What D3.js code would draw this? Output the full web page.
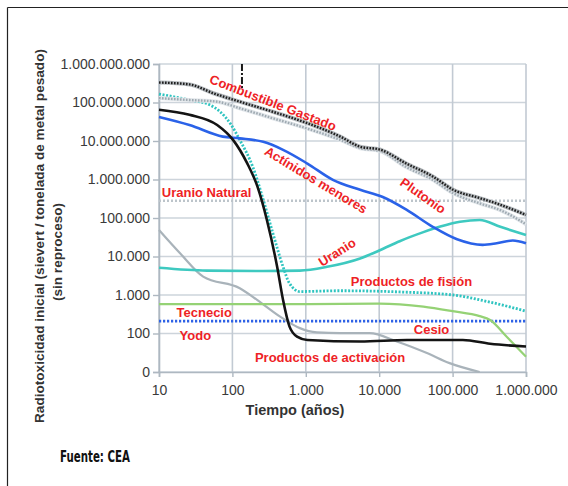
<!DOCTYPE html>
<html><head><meta charset="utf-8">
<script src="https://cdn.jsdelivr.net/npm/d3@7"></script>
<style>body{margin:0;background:#fff}svg{display:block}</style>
</head><body>
<svg id="c" width="568" height="486"></svg>
<script>
// ---------- data ----------
const xTicks = [10, 100, 1000, 10000, 100000, 1000000];
const xTickLabels = ["10", "100", "1.000", "10.000", "100.000", "1.000.000"];
const yTicks = [10, 100, 1e3, 1e4, 1e5, 1e6, 1e7, 1e8, 1e9];
const yTickLabels = ["0", "100", "1.000", "10.000", "100.000", "1.000.000", "10.000.000", "100.000.000", "1.000.000.000"];

const combTime  = [10, 26, 55, 126, 355, 1050, 2950, 5500, 10200, 23400, 53700, 102000, 234000, 447000, 1000000];
const combValue = [3.3e8, 2.95e8, 1.74e8, 1.05e8, 5.75e7, 2.9e7, 1.3e7, 7.1e6, 6.0e6, 2.6e6, 1.2e6, 5.4e5, 3.3e5, 2.2e5, 1.2e5];

const pluTime  = [10, 26, 62, 126, 355, 1050, 2950, 5500, 10200, 23400, 53700, 102000, 234000, 447000, 1000000];
const pluValue = [1.3e8, 1.16e8, 1.05e8, 7.1e7, 3.9e7, 2.1e7, 1.07e7, 6.5e6, 5.5e6, 2.1e6, 9.8e5, 4.4e5, 2.4e5, 1.6e5, 6.9e4];

const actTime  = [10, 26, 74, 126, 263, 490, 1050, 2340, 5500, 11200, 24000, 53700, 115000, 257000, 398000, 660000, 1000000];
const actValue = [4.2e7, 2.6e7, 1.3e7, 1.17e7, 9.5e6, 5.9e6, 2.6e6, 9.8e5, 5.4e5, 3.5e5, 1.6e5, 5.9e4, 2.8e4, 2.0e4, 2.2e4, 2.6e4, 2.2e4];

const fisTime  = [10, 26, 49, 93, 126, 190, 263, 355, 490, 600, 830, 2950, 19000, 102000, 295000, 1000000];
const fisValue = [1.66e8, 1.16e8, 8.7e7, 2.9e7, 1.07e7, 2.1e6, 3.0e5, 4.1e4, 5.4e3, 2.0e3, 1.23e3, 1.29e3, 1.2e3, 1.0e3, 6.8e2, 3.8e2];

const uraTime  = [10, 45, 263, 830, 1950, 5500, 10200, 19000, 40000, 68000, 126000, 234000, 447000, 1000000];
const uraValue = [5.1e3, 4.3e3, 4.2e3, 4.3e3, 5.4e3, 8.9e3, 1.45e4, 2.5e4, 4.3e4, 6.0e4, 8.0e4, 8.9e4, 5.9e4, 3.6e4];

const tecTime  = [10, 1000, 10000, 40000, 100000, 234000, 324000, 550000, 1000000];
const tecValue = [580, 580, 600, 500, 380, 282, 224, 81, 25];

const yodTime  = [10, 19.5, 40, 126, 219, 447, 830, 1410, 2950, 7400, 17400, 44700, 91000, 234000];
const yodValue = [4.9e4, 1.2e4, 3.0e3, 1.5e3, 740, 275, 138, 107, 102, 102, 62, 31, 17, 10];

const pacTime  = [10, 26, 62, 102, 158, 219, 295, 407, 490, 600, 760, 1050, 5500, 24000, 138000, 324000, 1000000];
const pacValue = [6.5e7, 4.8e7, 2.6e7, 1.07e7, 2.7e6, 6.6e5, 8.9e4, 5.4e3, 740, 151, 83, 68, 62, 68, 68, 54, 46];

const uranioNatural = 2.8e5;
const cesioLevel = 210;
const markerTime = 135;
const markerRange = [1e9, 2.1e8];

const labelTexts  = ["Combustible Gastado", "Actínidos menores", "Plutonio", "Uranio Natural", "Uranio", "Productos de fisión", "Tecnecio", "Yodo", "Cesio", "Productos de activación"];
const labelTimes  = [357, 1377, 39500, 44.5, 2660, 27500, 41.3, 31.3, 51600, 2140];
const labelValues = [9.9e7, 9.7e5, 3.8e5, 4.6e5, 1.3e4, 2245, 349, 91.4, 131, 23.8];
const labelAngles = [21, 31, 35, 0, -32, 0, 0, 0, 0, 0];

// ---------- layout ----------
const L = 159, R = 526, T = 64, B = 372;
const svg = d3.select("#c");
const x = d3.scaleLog().domain([10, 1e6]).range([L, R]);
const y = d3.scaleLog().domain([10, 1e9]).range([B, T]);
const FONT = "'Liberation Sans', Arial, Helvetica, sans-serif";

// frame
svg.append("line").attr("x1", 7.5).attr("x2", 568).attr("y1", 7.5).attr("y2", 7.5).attr("stroke", "#222").attr("stroke-width", 1.2);
svg.append("line").attr("x1", 7.5).attr("x2", 7.5).attr("y1", 7.5).attr("y2", 486).attr("stroke", "#222").attr("stroke-width", 1.2);

// grid
const grid = svg.append("g");
grid.selectAll("line.h").data(yTicks).join("line")
  .attr("x1", L).attr("x2", R).attr("y1", d => y(d)).attr("y2", d => y(d))
  .attr("stroke", "#cdd4db").attr("stroke-width", 1.6);
grid.selectAll("line.v").data(xTicks).join("line")
  .attr("y1", T).attr("y2", B).attr("x1", d => x(d)).attr("x2", d => x(d))
  .attr("stroke", "#c2cad3").attr("stroke-width", 1.6);

// axes
const yAxis = svg.append("g").attr("transform", `translate(${L},0)`)
  .call(d3.axisLeft(y).tickValues(yTicks).tickFormat((d, i) => yTickLabels[i]).tickSize(6).tickPadding(3));
const xAxis = svg.append("g").attr("transform", `translate(0,${B})`)
  .call(d3.axisBottom(x).tickValues(xTicks).tickFormat((d, i) => xTickLabels[i]).tickSize(5).tickPadding(8));
[yAxis, xAxis].forEach(g => {
  g.select(".domain").attr("stroke", "#aeb8c1").attr("stroke-width", 1.6);
  g.selectAll(".tick line").attr("stroke", "#aeb8c1").attr("stroke-width", 1.4);
  g.selectAll("text").attr("font-family", FONT).attr("font-size", 14).attr("fill", "#3a3a3a");
});

// line generator
const line = d3.line().x(d => x(d[0])).y(d => y(d[1])).curve(d3.curveMonotoneX);
const zip = (a, b) => a.map((t, i) => [t, b[i]]);
const plot = svg.append("g").attr("fill", "none").attr("stroke-linecap", "butt");
function draw(data, stroke, width, dash) {
  const p = plot.append("path").attr("d", line(data)).attr("stroke", stroke).attr("stroke-width", width);
  if (dash) p.attr("stroke-dasharray", dash);
  return p;
}

// reference lines
draw([[10, uranioNatural], [1e6, uranioNatural]], "#bcc4ca", 2.6, "2,2");
draw([[10, cesioLevel], [1e6, cesioLevel]], "#2e62e6", 2.8, "2.2,1.8");

// curves
draw(zip(yodTime, yodValue), "#a9b3ba", 2.2);
draw(zip(tecTime, tecValue), "#95d275", 2.2);
draw(zip(uraTime, uraValue), "#3ec9c0", 2.6);
draw(zip(fisTime, fisValue), "#2fc4c0", 2.8, "2,1.6");
draw(zip(actTime, actValue), "#2a62e8", 2.6);
draw(zip(pacTime, pacValue), "#141414", 2.6);
draw(zip(pluTime, pluValue), "#e1e6ea", 4);
draw(zip(pluTime, pluValue), "#9ea9b1", 2.4, "1.6,1.4");
draw(zip(combTime, combValue), "#b5babe", 4);
draw(zip(combTime, combValue), "#1e1e1e", 2.4, "1.6,1.4");

// vertical dash-dot marker
draw([[markerTime, markerRange[0]], [markerTime, markerRange[1]]], "#1a1a1a", 2, "7,2,2,2");

// labels
svg.append("g").selectAll("text").data(labelTexts).join("text")
  .attr("transform", (d, i) => `translate(${x(labelTimes[i])},${y(labelValues[i])}) rotate(${labelAngles[i]})`)
  .attr("text-anchor", "middle").attr("dy", "0.35em")
  .attr("font-family", FONT).attr("font-weight", "bold").attr("font-size", 13)
  .attr("fill", "#ee1f26").text(d => d);

// axis titles
svg.append("text").attr("x", 295).attr("y", 415).attr("text-anchor", "middle")
  .attr("font-family", FONT).attr("font-weight", "bold").attr("font-size", 14.5).attr("fill", "#333")
  .text("Tiempo (años)");
svg.append("text").attr("transform", "translate(44,236) rotate(-90)").attr("text-anchor", "middle")
  .attr("font-family", FONT).attr("font-weight", "bold").attr("font-size", 13.6).attr("fill", "#333")
  .text("Radiotoxicidad inicial (sievert / tonelada de metal pesado)");
svg.append("text").attr("transform", "translate(62,252) rotate(-90)").attr("text-anchor", "middle")
  .attr("font-family", FONT).attr("font-weight", "bold").attr("font-size", 13.6).attr("fill", "#333")
  .text("(sin reproceso)");

// source
svg.append("text").attr("x", 60).attr("y", 462)
  .attr("font-family", "'Liberation Sans Narrow', 'Arial Narrow', 'DejaVu Sans Condensed', sans-serif")
  .attr("font-weight", "bold").attr("font-size", 15).attr("fill", "#111")
  .attr("textLength", 70).attr("lengthAdjust", "spacingAndGlyphs")
  .text("Fuente: CEA");
</script>
</body></html>
